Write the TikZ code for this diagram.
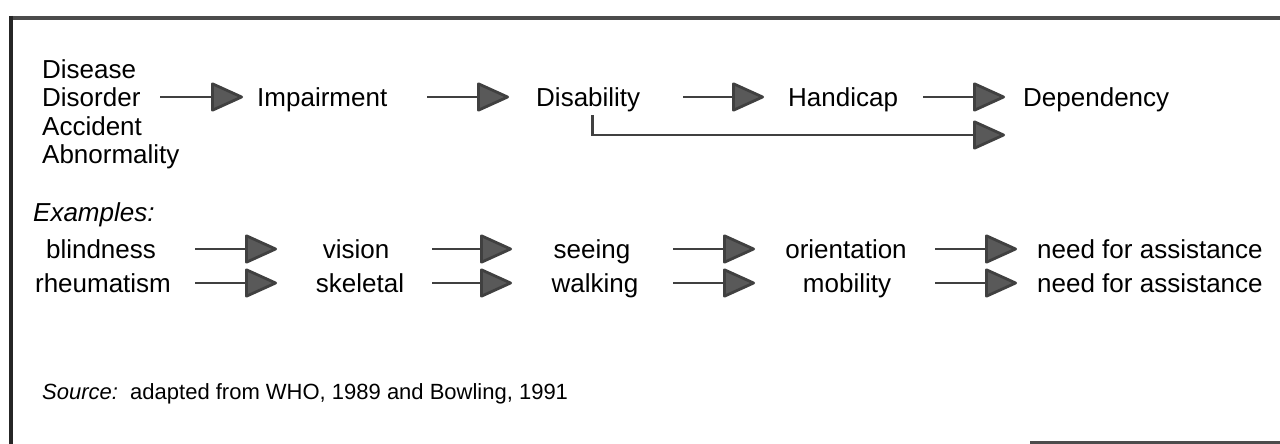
\documentclass[tikz,border=0pt]{standalone}
\usepackage{fontspec}
\setmainfont{Liberation Sans}
\usetikzlibrary{arrows.meta}
\begin{document}
\begin{tikzpicture}[x=1pt,y=-1pt,
  txt/.style={inner sep=0pt, text height=18.5pt, text depth=0pt, font=\fontsize{26}{31}\selectfont},
  src/.style={inner sep=0pt, text height=15.5pt, text depth=0pt, font=\fontsize{22}{26}\selectfont},
  arr/.style={line width=2.8pt, draw=black!75, -{Triangle[length=34pt,width=30pt,fill=black!65,round]}},
  frame/.style={line width=4.5pt, draw=black!70}]
\useasboundingbox (0,0) rectangle (1280,444);
% frame
\draw[frame] (11,18) -- (1280,18);
\draw[frame, draw=black!85, line width=4pt] (11,16) -- (11,444);
\draw[frame, line width=3pt] (1030,442) -- (1280,442);
% row 1
\node[txt, anchor=west] (disease) at (42,69) {Disease};
\node[txt, anchor=west] (disorder) at (42,97) {Disorder};
\node[txt, anchor=west] (accident) at (42,126) {Accident};
\node[txt, anchor=west] (abnorm) at (42,154) {Abnormality};
\node[txt, anchor=west] (impair) at (257,97) {Impairment};
\node[txt, anchor=west] (disab) at (536,97) {Disability};
\node[txt, anchor=west] (handi) at (788,97) {Handicap};
\node[txt, anchor=west] (dep) at (1023,97) {Dependency};
% arrow x positions
\coordinate (a1s) at (160,0); \coordinate (a1e) at (243,0);
\coordinate (a2s) at (427,0); \coordinate (a2e) at (509,0);
\coordinate (a3s) at (683,0); \coordinate (a3e) at (764,0);
\coordinate (a4s) at (923,0); \coordinate (a4e) at (1005,0);
\draw[arr] (disorder.east -| a1s) -- (impair.west -| a1e);
\draw[arr] (impair.east -| a2s) -- (disab.west -| a2e);
\draw[arr] (disab.east -| a3s) -- (handi.west -| a3e);
\draw[arr] (handi.east -| a4s) -- (dep.west -| a4e);
\coordinate (brkend) at (1005,135);
\draw[arr] ([xshift=4pt,yshift=-9pt]disab.south) |- (brkend);
% examples
\node[txt, anchor=west, font=\fontsize{26}{31}\selectfont\itshape] (ex) at (33,212) {Examples:};
\node[txt] (blind) at (101,249) {blindness};
\node[txt] (rheum) at (103,283) {rheumatism};
\node[txt] (vision) at (356,249) {vision};
\node[txt] (skel) at (360,283) {skeletal};
\node[txt] (seeing) at (592,249) {seeing};
\node[txt] (walk) at (595,283) {walking};
\node[txt] (orient) at (846,249) {orientation};
\node[txt] (mobil) at (847,283) {mobility};
\node[txt, anchor=west] (need1) at (1037,249) {need for assistance};
\node[txt, anchor=west] (need2) at (1037,283) {need for assistance};
\coordinate (b1s) at (195,0); \coordinate (b1e) at (277,0);
\coordinate (b2s) at (432,0); \coordinate (b2e) at (512,0);
\coordinate (b3s) at (673,0); \coordinate (b3e) at (755,0);
\coordinate (b4s) at (935,0); \coordinate (b4e) at (1017,0);
\draw[arr] (blind.east -| b1s) -- (vision.west -| b1e);
\draw[arr] (rheum.east -| b1s) -- (skel.west -| b1e);
\draw[arr] (vision.east -| b2s) -- (seeing.west -| b2e);
\draw[arr] (skel.east -| b2s) -- (walk.west -| b2e);
\draw[arr] (seeing.east -| b3s) -- (orient.west -| b3e);
\draw[arr] (walk.east -| b3s) -- (mobil.west -| b3e);
\draw[arr] (orient.east -| b4s) -- (need1.west -| b4e);
\draw[arr] (mobil.east -| b4s) -- (need2.west -| b4e);
% source
\node[src, anchor=west] (source) at (42,392) {\textit{Source:}\ \ adapted from WHO, 1989 and Bowling, 1991};
\end{tikzpicture}
\end{document}
